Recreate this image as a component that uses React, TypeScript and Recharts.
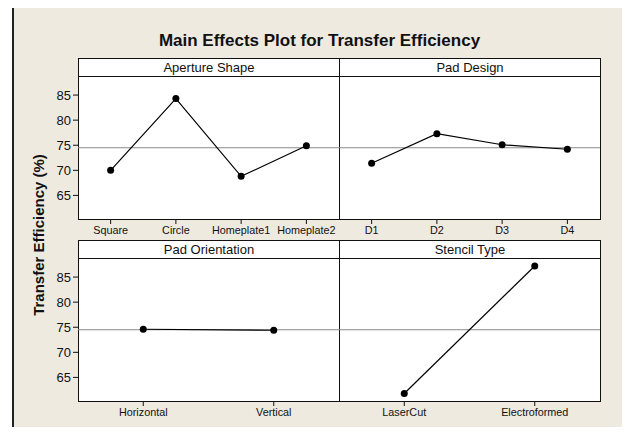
import React from "react";
import { LineChart, Line, XAxis, YAxis, ReferenceLine } from "recharts";

// values
const apertureShapes = ["Square", "Circle", "Homeplate1", "Homeplate2"];
const apertureMeans = [70.0, 84.3, 68.8, 74.9];

const padDesigns = ["D1", "D2", "D3", "D4"];
const padDesignMeans = [71.4, 77.3, 75.1, 74.2];

const padOrientations = ["Horizontal", "Vertical"];
const padOrientationMeans = [74.6, 74.4];

const stencilTypes = ["LaserCut", "Electroformed"];
const stencilMeans = [61.8, 87.2];

const grandMean = 74.5;
const yTicks = [65, 70, 75, 80, 85];
const yDomain: [number, number] = [60.3, 88.8];

const FONT = '"Liberation Sans", Arial, sans-serif';
const PLOT_W = 261;
const PLOT_H = 143;
const STRIP_H = 18;
const Y_AXIS_W = 48;

type PanelProps = {
  title: string;
  names: string[];
  values: number[];
  left: number;
  top: number; // top of the strip
  showY: boolean;
};

function Panel({ title, names, values, left, top, showY }: PanelProps) {
  const data = names.map((name, i) => ({ name, value: values[i] }));
  const pad = PLOT_W / names.length / 2;
  const plotTop = top + STRIP_H;
  const chartLeft = showY ? left - Y_AXIS_W : left;

  return (
    <>
      <div
        style={{
          position: "absolute",
          left,
          top,
          width: PLOT_W + 1,
          height: STRIP_H + 1,
          boxSizing: "border-box",
          border: "1px solid #111",
          background: "#fff",
          fontSize: 13,
          lineHeight: `${STRIP_H - 1}px`,
          textAlign: "center",
          color: "#111",
        }}
      >
        {title}
      </div>
      <div
        style={{
          position: "absolute",
          left,
          top: plotTop,
          width: PLOT_W + 1,
          height: PLOT_H + 1,
          boxSizing: "border-box",
          border: "1px solid #111",
          background: "#fff",
        }}
      />
      <div style={{ position: "absolute", left: chartLeft, top: plotTop }}>
        <LineChart
          width={PLOT_W + (showY ? Y_AXIS_W : 0)}
          height={PLOT_H + 30}
          data={data}
          margin={{ top: 0, right: 0, bottom: 0, left: 0 }}
        >
          <XAxis
            dataKey="name"
            height={30}
            axisLine={false}
            tickLine={{ stroke: "#111" }}
            tickSize={5}
            padding={{ left: pad, right: pad }}
            interval={0}
            tick={{ fontSize: 10.8, fill: "#111", fontFamily: FONT }}
          />
          <YAxis
            hide={!showY}
            width={Y_AXIS_W}
            domain={yDomain}
            ticks={yTicks}
            axisLine={false}
            tickLine={{ stroke: "#111" }}
            tickSize={5}
            tick={{ fontSize: 13, fill: "#111", fontFamily: FONT }}
          />
          <ReferenceLine y={grandMean} stroke="#8a8a8a" strokeWidth={1} />
          <Line
            dataKey="value"
            stroke="#000"
            strokeWidth={1.2}
            dot={{ r: 3.5, fill: "#000", stroke: "#000", strokeWidth: 0 }}
            isAnimationActive={false}
          />
        </LineChart>
      </div>
    </>
  );
}

export default function App() {
  return (
    <div
      style={{
        position: "relative",
        width: 630,
        height: 435,
        margin: -8,
        overflow: "hidden",
        background: "#fff",
        fontFamily: FONT,
      }}
    >
      <div
        style={{
          position: "absolute",
          left: 12,
          top: 7,
          width: 615,
          height: 450,
          boxSizing: "border-box",
          background: "#eeeae0",
          borderTop: "1px solid #555",
          borderLeft: "2px solid #222",
          borderRight: "1px solid #666",
        }}
      />
      <div
        style={{
          position: "absolute",
          left: 12,
          width: 615,
          top: 32,
          fontSize: 17,
          lineHeight: "17px",
          fontWeight: "bold",
          textAlign: "center",
          color: "#111",
        }}
      >
        Main Effects Plot for Transfer Efficiency
      </div>
      <div
        style={{
          position: "absolute",
          left: 38,
          top: 235,
          transform: "translate(-50%, -50%) rotate(-90deg)",
          whiteSpace: "nowrap",
          fontSize: 15,
          fontWeight: "bold",
          color: "#111",
        }}
      >
        Transfer Efficiency (%)
      </div>

      <Panel title="Aperture Shape" names={apertureShapes} values={apertureMeans} left={78} top={58} showY />
      <Panel title="Pad Design" names={padDesigns} values={padDesignMeans} left={339} top={58} showY={false} />
      <Panel title="Pad Orientation" names={padOrientations} values={padOrientationMeans} left={78} top={240} showY />
      <Panel title="Stencil Type" names={stencilTypes} values={stencilMeans} left={339} top={240} showY={false} />
    </div>
  );
}
